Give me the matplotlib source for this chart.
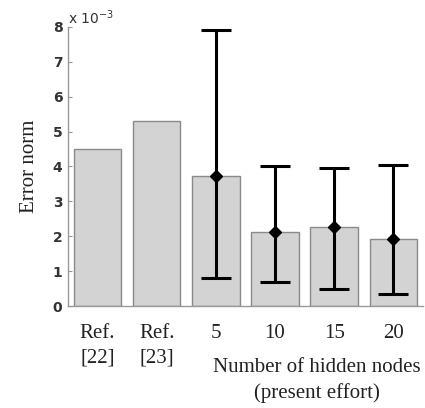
import numpy as np
import matplotlib.pyplot as plt

labels = ["Ref.\n[22]", "Ref.\n[23]", "5", "10", "15", "20"]
bar_vals = [4.5, 5.3, 3.73, 2.12, 2.27, 1.92]
# error bars only for the present-effort cases
err_idx = [2, 3, 4, 5]
err_mid = [3.73, 2.12, 2.27, 1.92]
err_low = [0.8, 0.69, 0.49, 0.34]
err_high = [7.9, 4.0, 3.97, 4.03]

serif = "Liberation Serif"

fig = plt.figure(figsize=(4.25, 4.08), dpi=100)
ax = fig.add_axes([0.16, 0.25, 0.835, 0.684])

x = np.arange(1, len(labels) + 1)
ax.bar(x, bar_vals, width=0.8, color="#d3d3d3", edgecolor="#8a8a8a", linewidth=1.0)

ex = x[err_idx]
mid = np.array(err_mid)
yerr = [mid - np.array(err_low), np.array(err_high) - mid]
ax.errorbar(ex, mid, yerr=yerr, fmt="D", color="black", markersize=6,
            elinewidth=2.2, capsize=11, capthick=2.2)

ax.set_xlim(0.5, 6.5)
ax.set_ylim(0, 8)
ax.set_yticks(range(0, 9))
ax.set_yticklabels([str(v) for v in range(0, 9)], fontfamily="DejaVu Sans",
                   fontweight="bold", fontsize=10, color="#333333")
ax.set_xticks(x)
ax.set_xticklabels(labels, fontfamily=serif, fontsize=15, color="#222222",
                   linespacing=1.4)
ax.tick_params(axis="x", length=0, pad=13)
ax.tick_params(axis="y", direction="in", length=3, color="#999999", pad=4)

for s in ["top", "right"]:
    ax.spines[s].set_visible(False)
for s in ["left", "bottom"]:
    ax.spines[s].set_color("#999999")
    ax.spines[s].set_linewidth(1.0)

ax.set_ylabel("Error norm", fontfamily=serif, fontsize=15, color="#222222", labelpad=10)
ax.text(0.0, 1.0, r"x 10$^{-3}$", transform=ax.transAxes, ha="left", va="bottom",
        fontfamily="DejaVu Sans", fontsize=10, color="#333333")

fig.text(0.745, 0.068, "Number of hidden nodes\n(present effort)", ha="center",
         va="center", fontfamily=serif, fontsize=15, color="#222222", linespacing=1.4)

fig.savefig("out.png", dpi=100)
